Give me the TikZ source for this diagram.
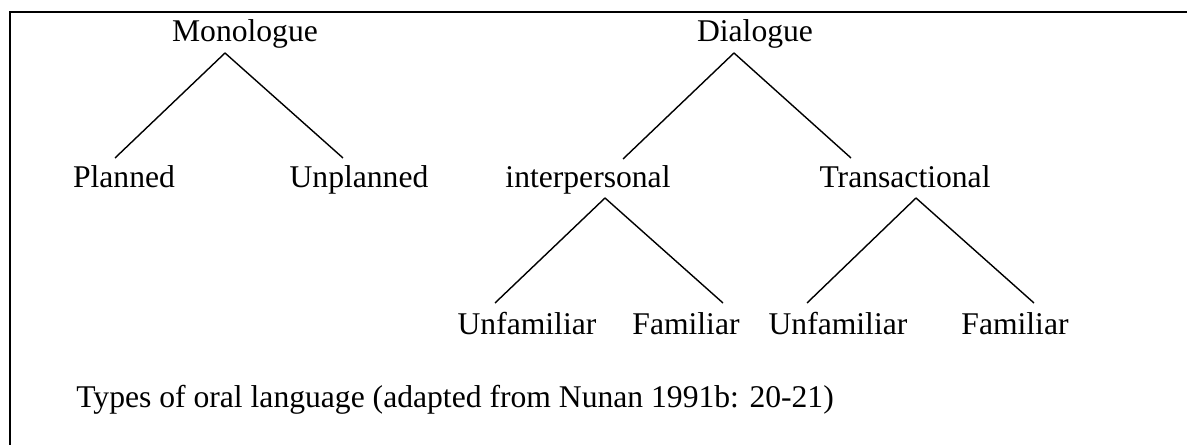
\documentclass[tikz,border=0pt]{standalone}
\usepackage{fontspec}
\setmainfont{Liberation Serif}

\begin{document}
\begin{tikzpicture}[x=0.02cm,y=-0.02cm,
    every node/.style={font=\fontsize{18}{22}\selectfont,inner sep=0pt,anchor=base},
    branch/.style={line width=0.8pt}]
  \useasboundingbox (0,0) rectangle (1187,445);
  \draw[line width=1.2pt] (10,445) -- (10,12) -- (1187,12); %frame runs off at right and bottom

  % labels
  \node (mono) at (245,42) {Monologue};
  \node (dia) at (755,42) {Dialogue};
  \node (plan) at (124,188) {Planned};
  \node (unplan) at (359,188) {Unplanned};
  \node (inter) at (588,188) {interpersonal};
  \node (trans) at (905,188) {Transactional};
  \node (unfamA) at (527,335) {Unfamiliar};
  \node (famA) at (686,335) {Familiar};
  \node (unfamB) at (838,335) {Unfamiliar};
  \node (famB) at (1015,335) {Familiar};
  \node[anchor=base west] (caption) at (76,408) {Types of oral language (adapted from Nunan 1991b: 20-21)};

  % branch ends
  \coordinate (mono-b) at (225,53);
  \coordinate (dia-b) at (734,53);
  \coordinate (inter-b) at (605,198);
  \coordinate (trans-b) at (916,198);
  \coordinate (plan-t) at (115,158);
  \coordinate (unplan-t) at (343,158);
  \coordinate (inter-t) at (623,159);
  \coordinate (trans-t) at (851,158);
  \coordinate (unfamA-t) at (495,303);
  \coordinate (famA-t) at (723,303);
  \coordinate (unfamB-t) at (807,303);
  \coordinate (famB-t) at (1034,303);

  \foreach \p/\c in {mono/plan, mono/unplan, dia/inter, dia/trans,
                     inter/unfamA, inter/famA, trans/unfamB, trans/famB} {
    \draw[branch] (\p-b) -- (\c-t);
  }
\end{tikzpicture}
\end{document}
